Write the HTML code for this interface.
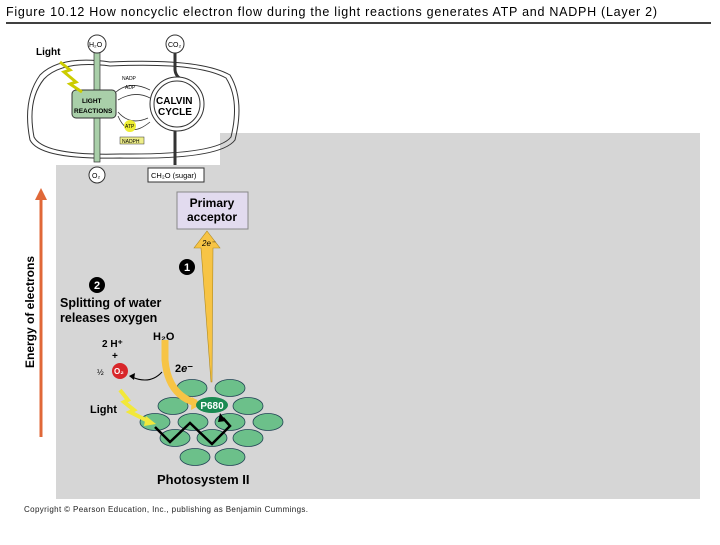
<!DOCTYPE html>
<html><head><meta charset="utf-8"><style>
body{margin:0;background:#fff;width:720px;height:540px;overflow:hidden;font-family:"Liberation Sans",sans-serif}
</style></head><body>
<svg width="720" height="540" xmlns="http://www.w3.org/2000/svg" font-family="Liberation Sans, sans-serif">
<text x="6" y="16" font-size="12.5" fill="#000" textLength="651" lengthAdjust="spacing">Figure 10.12  How noncyclic electron flow during the light reactions generates ATP and NADPH (Layer 2)</text>
<line x1="6" y1="23" x2="711" y2="23" stroke="#000" stroke-width="1.5"/>
<rect x="56" y="133" width="644" height="366" fill="#d6d6d6"/>
<rect x="56" y="133" width="164" height="32" fill="#fff"/>
<text x="24" y="512" font-size="8" fill="#222" textLength="284" lengthAdjust="spacing">Copyright © Pearson Education, Inc., publishing as Benjamin Cummings.</text>
<!-- chloroplast -->
<text x="36" y="55" font-size="10" font-weight="bold">Light</text>
<path d="M40,75 Q60,55 110,62 Q200,58 230,75 Q245,100 235,140 Q220,160 120,158 Q40,160 30,140 Q22,100 40,75Z" fill="none" stroke="#333" stroke-width="1"/>
<path d="M44,79 Q62,60 110,66 Q198,62 226,78 Q240,100 231,137 Q217,155 120,154 Q44,156 34,137 Q27,100 44,79Z" fill="none" stroke="#333" stroke-width="1"/>
<rect x="94" y="50" width="6" height="112" fill="#a9cfa9" stroke="#333" stroke-width=".7"/>
<circle cx="97" cy="44" r="9" fill="#fff" stroke="#333"/><text x="89" y="47" font-size="7">H₂O</text>
<circle cx="175" cy="44" r="9" fill="#fff" stroke="#333"/><text x="168" y="47" font-size="7">CO₂</text>
<path d="M175,53 V70 Q176,78 184,80" stroke="#333" fill="none" stroke-width="3"/>
<circle cx="97" cy="175" r="8" fill="#fff" stroke="#333"/><text x="92" y="178" font-size="7">O₂</text>
<rect x="72" y="90" width="44" height="28" rx="4" fill="#a9cfa9" stroke="#333"/>
<text x="82" y="103" font-size="6.5" font-weight="bold">LIGHT</text><text x="74" y="113" font-size="6.5" font-weight="bold">REACTIONS</text>
<path d="M60,62 L70,70 L64,72 L76,82 L70,84 L82,92" stroke="#cc0" stroke-width="3" fill="none"/>
<circle cx="177" cy="104" r="27" fill="#fff" stroke="#333" stroke-width="1"/>
<circle cx="177" cy="104" r="23" fill="none" stroke="#333" stroke-width="1"/>
<text x="156" y="104" font-size="10" font-weight="bold">CALVIN</text><text x="158" y="115" font-size="10" font-weight="bold">CYCLE</text>
<path d="M150,90 Q130,80 116,92 M150,98 Q135,90 118,100 M118,112 Q130,126 148,118 M118,116 Q128,140 150,122" stroke="#333" fill="none" stroke-width=".8"/>
<text x="122" y="80" font-size="5">NADP</text><text x="125" y="89" font-size="5">ADP</text>
<circle cx="130" cy="126" r="6" fill="#ee3"/><text x="125" y="128" font-size="5">ATP</text>
<rect x="120" y="137" width="24" height="7" fill="#ee8" stroke="#333" stroke-width=".5"/><text x="122" y="143" font-size="5">NADPH</text>
<path d="M175,131 V165" stroke="#333" stroke-width="3" fill="none"/>
<rect x="148" y="168" width="56" height="14" fill="#fff" stroke="#333"/><text x="151" y="178" font-size="7.5">CH₂O (sugar)</text>
<!-- energy arrow -->
<line x1="41" y1="437" x2="41" y2="198" stroke="#e06838" stroke-width="3"/>
<polygon points="35,200 47,200 41,188" fill="#e06838"/>
<text transform="translate(34,312) rotate(-90)" font-size="12" font-weight="bold" text-anchor="middle">Energy of electrons</text>
<!-- primary acceptor -->
<rect x="177" y="192" width="71" height="37" fill="#e2dbef" stroke="#888"/>
<text x="212" y="207" font-size="12" font-weight="bold" text-anchor="middle">Primary</text>
<text x="212" y="221" font-size="12" font-weight="bold" text-anchor="middle">acceptor</text>
<polygon points="207,231 220,248 213,248 212,382 211,382 201,248 194,248" fill="#f7c445" stroke="#b08a20" stroke-width=".6"/>
<text x="202" y="246" font-size="8" font-style="italic">2e⁻</text>
<circle cx="187" cy="267" r="8" fill="#000"/><text x="187" y="271" font-size="11" font-weight="bold" fill="#fff" text-anchor="middle">1</text>
<circle cx="97" cy="285" r="8" fill="#000"/><text x="97" y="289" font-size="11" font-weight="bold" fill="#fff" text-anchor="middle">2</text>
<text x="60" y="307" font-size="12.5" font-weight="bold">Splitting of water</text>
<text x="60" y="322" font-size="12.5" font-weight="bold">releases oxygen</text>
<text x="153" y="340" font-size="11" font-weight="bold">H₂O</text>
<text x="102" y="347" font-size="10" font-weight="bold">2 H⁺</text>
<text x="112" y="359" font-size="10" font-weight="bold">+</text>
<text x="97" y="375" font-size="8">½</text>
<circle cx="120" cy="371" r="8" fill="#d8262a"/><text x="114" y="374" font-size="8" fill="#fff" font-weight="bold">O₂</text>
<text x="175" y="372" font-size="11" font-weight="bold">2<tspan font-style="italic">e</tspan>⁻</text>
<path d="M162,372 Q150,385 132,377" stroke="#000" fill="none" stroke-width="1"/>
<polygon points="129,376 135,373 134,380" fill="#000"/>
<!-- ellipses -->
<g fill="#6cc08a" stroke="#245" stroke-width=".8">
<ellipse cx="192" cy="388" rx="15" ry="8.5"/><ellipse cx="230" cy="388" rx="15" ry="8.5"/>
<ellipse cx="173" cy="406" rx="15" ry="8.5"/><ellipse cx="248" cy="406" rx="15" ry="8.5"/>
<ellipse cx="155" cy="422" rx="15" ry="8.5"/><ellipse cx="193" cy="422" rx="15" ry="8.5"/><ellipse cx="230" cy="422" rx="15" ry="8.5"/><ellipse cx="268" cy="422" rx="15" ry="8.5"/>
<ellipse cx="175" cy="438" rx="15" ry="8.5"/><ellipse cx="212" cy="438" rx="15" ry="8.5"/><ellipse cx="248" cy="438" rx="15" ry="8.5"/>
<ellipse cx="195" cy="457" rx="15" ry="8.5"/><ellipse cx="230" cy="457" rx="15" ry="8.5"/>
</g>
<path d="M165,340 L165,360 Q168,395 196,403" stroke="#f7c445" stroke-width="7" fill="none"/>
<polygon points="192,397 202,404 191,410" fill="#f7c445"/>
<ellipse cx="212" cy="405" rx="16" ry="8" fill="#1a8a52"/>
<text x="212" y="409" font-size="10" font-weight="bold" fill="#fff" text-anchor="middle">P680</text>
<path d="M120,390 L128,400 L124,402 L134,410 L130,412 L150,422" stroke="#f2e83a" stroke-width="4" fill="none"/>
<polygon points="146,416 156,424 144,426" fill="#f2e83a"/>
<text x="90" y="413" font-size="11" font-weight="bold">Light</text>
<polyline points="155,427 170,442 190,423 212,444 230,426 223,418" stroke="#000" stroke-width="2.5" fill="none"/>
<polygon points="220,413 226,421 218,422" fill="#000"/>
<text x="157" y="484" font-size="13" font-weight="bold">Photosystem II</text>
</svg>
</body></html>
